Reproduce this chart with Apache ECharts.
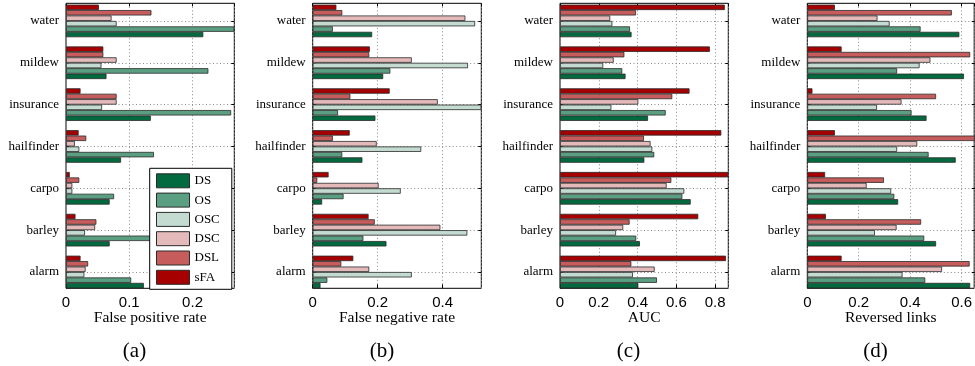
<!DOCTYPE html>
<html>
<head>
<meta charset="utf-8">
<script src="https://cdn.jsdelivr.net/npm/echarts@6/dist/echarts.min.js"></script>
<style>
  html, body { margin: 0; padding: 0; background: #fff; }
  #chart { width: 975px; height: 366px; }
</style>
</head>
<body>
<div id="chart"></div>
<script>
// networks, bottom to top
const networks = ['alarm', 'barley', 'carpo', 'hailfinder', 'insurance', 'mildew', 'water']
const methods = ['DS', 'OS', 'OSC', 'DSC', 'DSL', 'sFA']
const methodColors = ['#03693f', '#5b9f82', '#c3dbd1', '#e4b9ba', '#c65c5c', '#a60000']

// one row per method (DS, OS, OSC, DSC, DSL, sFA), values follow networks
const falsePositive = [
    [0.123, 0.069, 0.069, 0.087, 0.134, 0.064, 0.217],
    [0.103, 0.140, 0.076, 0.139, 0.261, 0.225, 0.266],
    [0.029, 0.030, 0.010, 0.021, 0.057, 0.056, 0.080],
    [0.031, 0.046, 0.010, 0.014, 0.080, 0.080, 0.072],
    [0.035, 0.048, 0.021, 0.032, 0.080, 0.059, 0.135],
    [0.023, 0.015, 0.006, 0.020, 0.023, 0.059, 0.052]
]
const falseNegative = [
    [0.024, 0.227, 0.029, 0.153, 0.193, 0.217, 0.183],
    [0.045, 0.156, 0.095, 0.091, 0.078, 0.239, 0.062],
    [0.305, 0.476, 0.271, 0.334, 0.519, 0.478, 0.500],
    [0.174, 0.393, 0.203, 0.197, 0.385, 0.305, 0.470],
    [0.088, 0.191, 0.014, 0.062, 0.116, 0.174, 0.091],
    [0.125, 0.172, 0.049, 0.114, 0.237, 0.176, 0.073]
]
const auc = [
    [0.404, 0.412, 0.674, 0.435, 0.454, 0.338, 0.369],
    [0.500, 0.393, 0.631, 0.486, 0.545, 0.321, 0.361],
    [0.376, 0.289, 0.641, 0.476, 0.265, 0.223, 0.270],
    [0.488, 0.326, 0.550, 0.467, 0.404, 0.277, 0.259],
    [0.368, 0.359, 0.574, 0.433, 0.579, 0.332, 0.392],
    [0.856, 0.713, 0.868, 0.832, 0.668, 0.773, 0.850]
]
const reversedLinks = [
    [0.631, 0.499, 0.352, 0.575, 0.462, 0.607, 0.589],
    [0.457, 0.453, 0.337, 0.470, 0.404, 0.348, 0.439],
    [0.369, 0.262, 0.325, 0.348, 0.270, 0.435, 0.319],
    [0.522, 0.346, 0.230, 0.426, 0.365, 0.477, 0.272],
    [0.629, 0.441, 0.297, 0.649, 0.499, 0.631, 0.560],
    [0.133, 0.072, 0.069, 0.107, 0.020, 0.133, 0.107]
]

const panelData = [falsePositive, falseNegative, auc, reversedLinks]
const axisNames = ['False positive rate', 'False negative rate', 'AUC', 'Reversed links']
const tickSteps = [0.1, 0.2, 0.2, 0.2]
const panelTags = ['(a)', '(b)', '(c)', '(d)']

// layout of the four panels
const plotLefts = [66, 312.7, 560, 807.3]
const plotWidths = [168.3, 168.6, 168.3, 167.5]
const plotTop = 3.3
const plotHeight = 285
const tagCenters = [134.5, 382, 628.5, 875.5]

const serif = 'Liberation Serif'
const sans = 'Liberation Sans'
const dotted = { color: '#8a8a8a', width: 1, type: [1, 2.5] }

let grid = [], xAxis = [], yAxis = [], series = [], graphic = []

panelData.forEach((rows, p) => {
    // x range ends at the largest value, as in the original
    const xMax = Math.max(...rows.flat())

    // frame grid: border, x ticks, labels, vertical grid lines
    grid.push({ left: plotLefts[p], top: plotTop, width: plotWidths[p], height: plotHeight,
        show: true, borderColor: '#000', borderWidth: 1, backgroundColor: 'transparent' })
    // data grid: bands sized so groups fill the frame top to bottom
    grid.push({ left: plotLefts[p], top: plotTop - 4.6, width: plotWidths[p], height: plotHeight + 9.2 })

    const g = p * 2
    xAxis.push({
        type: 'value', gridIndex: g, min: 0, max: xMax, interval: tickSteps[p],
        axisLine: { show: false },
        axisTick: { show: true, inside: true, length: 4, lineStyle: { color: '#000' } },
        axisLabel: { color: '#000', fontFamily: sans, fontSize: 15, margin: 7, showMaxLabel: false },
        splitLine: { show: true, lineStyle: dotted },
        name: axisNames[p], nameLocation: 'middle', nameGap: 21.5, nameMoveOverlap: false,
        nameTextStyle: { color: '#000', fontFamily: serif, fontSize: 15.5 }
    })
    xAxis.push({
        type: 'value', gridIndex: g, position: 'top', min: 0, max: xMax, interval: tickSteps[p],
        axisLine: { show: false },
        axisTick: { show: true, inside: true, length: 3, lineStyle: { color: '#000' } },
        axisLabel: { show: false }, splitLine: { show: false }
    })
    xAxis.push({ type: 'value', gridIndex: g + 1, min: 0, max: xMax, show: false })

    yAxis.push({ type: 'category', gridIndex: g, data: networks, show: false })
    yAxis.push({
        type: 'category', gridIndex: g + 1, data: networks,
        axisLine: { show: false },
        axisTick: { show: true, inside: true, alignWithLabel: true, length: 3, lineStyle: { color: '#000' } },
        axisLabel: { color: '#000', fontFamily: serif, fontSize: 13, margin: 7 },
        splitLine: { show: true, alignWithLabel: true, lineStyle: dotted }
    })
    yAxis.push({
        type: 'category', gridIndex: g + 1, data: networks, position: 'right',
        axisLine: { show: false },
        axisTick: { show: true, inside: true, alignWithLabel: true, length: 3, lineStyle: { color: '#000' } },
        axisLabel: { show: false }, splitLine: { show: false }
    })

    // sFA on top of each group, DS at the bottom
    for (let m = methods.length - 1; m >= 0; m--) {
        series.push({
            type: 'bar', name: methods[m],
            xAxisIndex: p * 3 + 2, yAxisIndex: p * 3 + 1,
            data: rows[m],
            barGap: '0%', barCategoryGap: '22%',
            itemStyle: { color: methodColors[m], borderColor: '#2b2b2b', borderWidth: 0.8 },
            emphasis: { disabled: true }, animation: false
        })
    }

    graphic.push({
        type: 'text', x: tagCenters[p], y: 351,
        style: { text: panelTags[p], fill: '#000', font: '21px "Liberation Serif"',
            textAlign: 'center', textVerticalAlign: 'middle' }
    })
})

let charts = echarts.init(document.getElementById('chart'))
charts.setOption({
    animation: false,
    legend: {
        data: methods, orient: 'vertical', left: 149.7, top: 168.3,
        itemWidth: 33, itemHeight: 14, itemGap: 4.3,
        padding: [5, 12, 4.5, 6.3],
        backgroundColor: '#fff', borderColor: '#000', borderWidth: 1,
        icon: 'rect',
        itemStyle: { borderColor: '#2b2b2b', borderWidth: 1 },
        textStyle: { color: '#000', fontFamily: serif, fontSize: 13 },
        selectedMode: false
    },
    grid, xAxis, yAxis, series, graphic
})
</script>
</body>
</html>
